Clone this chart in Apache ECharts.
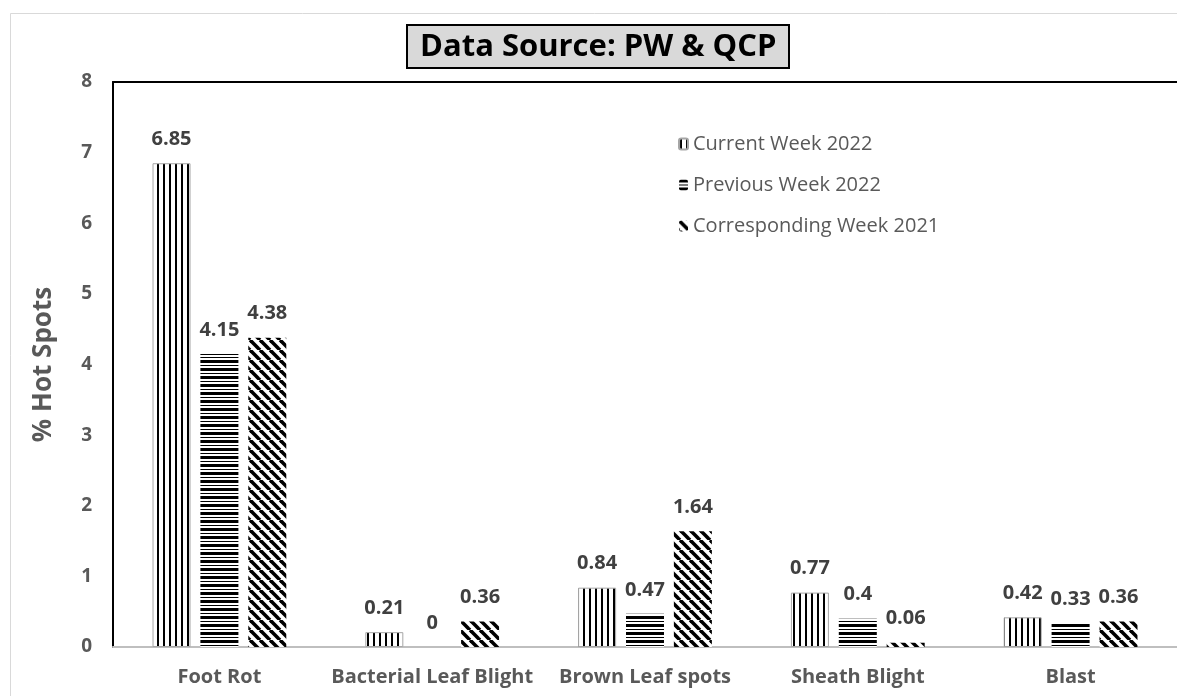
<!DOCTYPE html>
<html>
<head>
<meta charset="utf-8">
<script src="https://cdn.jsdelivr.net/npm/echarts@6/dist/echarts.min.js"></script>
<style>
html, body { margin: 0; padding: 0; background: #fff; }
#chart { width: 1177px; height: 696px; }
</style>
</head>
<body>
<div id="chart"></div>
<script>
// data
const categories = ['Foot Rot', 'Bacterial Leaf Blight', 'Brown Leaf spots', 'Sheath Blight', 'Blast'];
const currentWeek2022 = [6.85, 0.21, 0.84, 0.77, 0.42];
const previousWeek2022 = [4.15, 0, 0.47, 0.4, 0.33];
const correspondingWeek2021 = [4.38, 0.36, 1.64, 0.06, 0.36];
const seriesNames = ['Current Week 2022', 'Previous Week 2022', 'Corresponding Week 2021'];
const yMin = 0, yMax = 8, yStep = 1;

// hatch patterns drawn on small canvases
function makePattern(kind) {
  const c = document.createElement('canvas');
  const ctx = c.getContext('2d');
  if (kind === 'vertical') {
    c.width = 6; c.height = 6;
    ctx.fillStyle = '#fff'; ctx.fillRect(0, 0, 6, 6);
    ctx.fillStyle = '#000'; ctx.fillRect(1, 0, 2, 6);
  } else if (kind === 'horizontal') {
    c.width = 8; c.height = 8;
    ctx.fillStyle = '#fff'; ctx.fillRect(0, 0, 8, 8);
    ctx.fillStyle = '#000';
    ctx.fillRect(0, 0, 8, 3);
    ctx.fillRect(0, 5, 8, 1);
  } else {
    c.width = 10; c.height = 10;
    ctx.fillStyle = '#fff'; ctx.fillRect(0, 0, 10, 10);
    ctx.strokeStyle = '#000'; ctx.lineWidth = 3.6;
    for (let k = -10; k <= 10; k += 10) {
      ctx.beginPath();
      ctx.moveTo(k, 0);
      ctx.lineTo(k + 10, 10);
      ctx.stroke();
    }
  }
  return { image: c, repeat: 'repeat' };
}

const font = '"Open Sans", sans-serif';
const labelStyle = {
  show: true, position: 'top', distance: 14,
  color: '#404040', fontWeight: 'bold', fontSize: 20, fontFamily: font
};

const myChart = echarts.init(document.getElementById('chart'));
const option = {
  backgroundColor: '#fff',
  textStyle: { fontFamily: font },
  animation: false,
  graphic: [{
    type: 'rect', z: -1,
    shape: { x: 10.5, y: 13.5, width: 1200, height: 700 },
    style: { fill: 'none', stroke: '#d9d9d9', lineWidth: 1 }
  }],
  title: {
    text: 'Data Source: PW & QCP',
    left: 407, top: 25,
    padding: [7, 13, 5, 13],
    backgroundColor: '#d9d9d9',
    borderColor: '#000', borderWidth: 2,
    textStyle: { fontSize: 31, fontWeight: 'bold', color: '#000', fontFamily: font }
  },
  legend: {
    orient: 'vertical',
    left: 678, top: 134,
    padding: 0,
    itemGap: 21,
    itemWidth: 9, itemHeight: 11,
    textStyle: { color: '#595959', fontSize: 20, fontFamily: font },
    data: seriesNames
  },
  grid: { left: 113, right: -6, top: 82, bottom: 49 },
  xAxis: [{
    type: 'category',
    data: categories,
    axisLine: { lineStyle: { color: '#bfbfbf', width: 2 } },
    axisTick: { show: false },
    axisLabel: { color: '#595959', fontWeight: 'bold', fontSize: 20, margin: 20, interval: 0, fontFamily: font }
  }, {
    type: 'category',
    data: categories,
    position: 'top',
    axisLine: { lineStyle: { color: '#000', width: 2 } },
    axisTick: { show: false },
    axisLabel: { show: false }
  }],
  yAxis: {
    type: 'value',
    min: yMin, max: yMax, interval: yStep,
    name: '% Hot Spots',
    nameLocation: 'middle',
    nameGap: 56,
    nameMoveOverlap: false,
    nameTextStyle: { color: '#595959', fontWeight: 'bold', fontSize: 26, fontFamily: font },
    axisLine: { show: true, lineStyle: { color: '#000', width: 2 } },
    axisTick: { show: false },
    splitLine: { show: false },
    axisLabel: { color: '#595959', fontWeight: 'bold', fontSize: 19, margin: 21, fontFamily: font }
  },
  series: [{
    name: seriesNames[0], type: 'bar',
    data: currentWeek2022,
    barWidth: 38, barGap: '26%',
    itemStyle: { color: makePattern('vertical'), borderColor: '#a6a6a6', borderWidth: 1 },
    label: labelStyle
  }, {
    name: seriesNames[1], type: 'bar',
    data: previousWeek2022,
    barWidth: 38, barGap: '26%',
    itemStyle: { color: makePattern('horizontal') },
    label: labelStyle
  }, {
    name: seriesNames[2], type: 'bar',
    data: correspondingWeek2021,
    barWidth: 38, barGap: '26%',
    itemStyle: { color: makePattern('diagonal') },
    label: labelStyle
  }]
};
myChart.setOption(option);
</script>
</body>
</html>
